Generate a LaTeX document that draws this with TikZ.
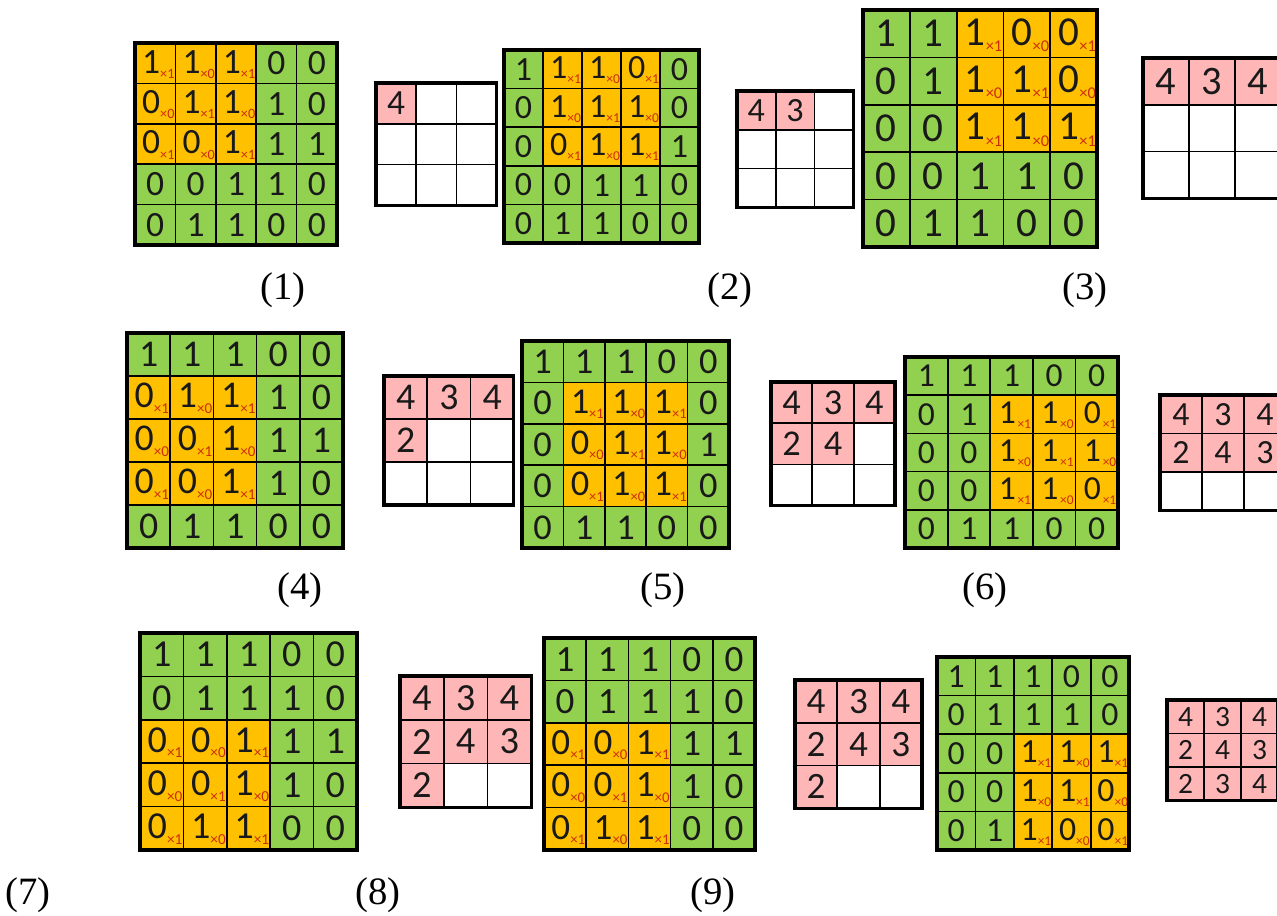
\documentclass[tikz,border=0pt]{standalone}
\usepackage{fontspec}
\setmainfont{Liberation Serif}
\newfontfamily\cellfont{Carlito}

\definecolor{gridgreen}{RGB}{146,208,80}
\definecolor{winorange}{RGB}{255,192,0}
\definecolor{outpink}{RGB}{255,182,182}
\definecolor{kernred}{RGB}{205,45,10}

\tikzset{
  gridline/.style={draw=black, line width=0.5pt},
  gridframe/.style={draw=black, line width=0.9pt},
  cellnum/.style={inner sep=0pt, text=black!90},
  kernnum/.style={inner sep=0pt, text=kernred},
  steplabel/.style={inner sep=0pt, font=\fontsize{11}{13}\selectfont},
}

% 5x5 input with 3x3 window
% #1 name, #2 left, #3 top, #4 cell w, #5 cell h, #6 window row, #7 window col
\newcommand{\convgrid}[7]{%
  \pgfmathsetmacro\fs{0.25*min(#4,#5)}
  \pgfmathsetmacro\ks{0.1*min(#4,#5)}
  \foreach \row [count=\gr from 0] in {{1,1,1,0,0},{0,1,1,1,0},{0,0,1,1,1},{0,0,1,1,0},{0,1,1,0,0}} {
    \foreach \v [count=\gc from 0] in \row {
      \pgfmathtruncatemacro\inwin{(\gr>=#6)&&(\gr<=#6+2)&&(\gc>=#7)&&(\gc<=#7+2)}
      \ifnum\inwin=1
        \pgfmathtruncatemacro\kv{1-mod(\gr-#6+\gc-#7+10,2)}
        \fill[winorange] ({#2+\gc*#4},{#3+\gr*#5}) rectangle ++(#4,#5);
        \node[cellnum, font=\cellfont\fontsize{\fs}{\fs}\selectfont] (#1-\gr-\gc)
          at ({#2+(\gc+0.4)*#4},{#3+(\gr+0.46)*#5}) {\v};
        \node[kernnum, font=\cellfont\fontsize{\ks}{\ks}\selectfont] (#1-k-\gr-\gc)
          at ({#2+(\gc+0.8)*#4},{#3+(\gr+0.76)*#5}) {×\kv};
      \else
        \fill[gridgreen] ({#2+\gc*#4},{#3+\gr*#5}) rectangle ++(#4,#5);
        \node[cellnum, font=\cellfont\fontsize{\fs}{\fs}\selectfont] (#1-\gr-\gc)
          at ({#2+(\gc+0.5)*#4},{#3+(\gr+0.5)*#5}) {\v};
      \fi
    }
  }
  \foreach \i in {1,...,4} {
    \draw[gridline] ({#2+\i*#4},#3) -- ++(0,{5*#5});
    \draw[gridline] (#2,{#3+\i*#5}) -- ++({5*#4},0);
  }
  \draw[gridframe] (#2,#3) rectangle ++({5*#4},{5*#5});
}

% 3x3 output, first #6 cells filled
% #1 name, #2 left, #3 top, #4 cell w, #5 cell h, #6 count
\newcommand{\outgrid}[6]{%
  \pgfmathsetmacro\fs{0.25*min(#4,#5)}
  \foreach \v [count=\n from 0] in {4,3,4,2,4,3,2,3,4} {
    \pgfmathtruncatemacro\gr{div(\n,3)}
    \pgfmathtruncatemacro\gc{mod(\n,3)}
    \ifnum\n<#6
      \fill[outpink] ({#2+\gc*#4},{#3+\gr*#5}) rectangle ++(#4,#5);
      \node[cellnum, font=\cellfont\fontsize{\fs}{\fs}\selectfont] (#1-\gr-\gc)
        at ({#2+(\gc+0.5)*#4},{#3+(\gr+0.5)*#5}) {\v};
    \fi
  }
  \foreach \i in {1,2} {
    \draw[gridline] ({#2+\i*#4},#3) -- ++(0,{3*#5});
    \draw[gridline] (#2,{#3+\i*#5}) -- ++({3*#4},0);
  }
  \draw[gridframe] (#2,#3) rectangle ++({3*#4},{3*#5});
}

\begin{document}
\begin{tikzpicture}[x=0.01cm, y=-0.01cm]
  \useasboundingbox (0,0) rectangle (1277,915);
  \clip (0,0) rectangle (1277,915);
  \fill[white] (0,0) rectangle (1277,915);

  % first row
  \convgrid{in1}{135}{43}{40.4}{40.4}{0}{0}
  \outgrid{out1}{376}{83}{40.3}{40.7}{1}
  \convgrid{in2}{504}{50}{39}{38.6}{0}{1}
  \outgrid{out2}{737}{91}{38.7}{38.7}{2}
  \convgrid{in3}{863}{10}{46.8}{47.4}{0}{2}
  \outgrid{out3}{1143}{58}{46}{46.7}{3}

  % second row
  \convgrid{in4}{127}{333}{43.2}{43}{1}{0}
  \outgrid{out4}{384}{376}{43.3}{43}{4}
  \convgrid{in5}{522}{341}{41.4}{41.4}{1}{1}
  \outgrid{out5}{771}{382}{41.3}{41.3}{5}
  \convgrid{in6}{905}{357}{42.6}{38.2}{1}{2}
  \outgrid{out6}{1160}{395}{42}{38.5}{6}

  % third row
  \convgrid{in7}{140}{633}{43.4}{43.4}{2}{0}
  \outgrid{out7}{400}{676}{43.7}{43.7}{7}
  \convgrid{in8}{544}{638}{42.2}{42.4}{2}{0}
  \outgrid{out8}{795}{680}{42.3}{42.7}{7}
  \convgrid{in9}{937}{657}{38.4}{38.6}{2}{2}
  \outgrid{out9}{1167}{700}{37}{33.5}{9}

  % step labels
  \node[steplabel] (lab1) at (283,290) {(1)};
  \node[steplabel] (lab2) at (730,290) {(2)};
  \node[steplabel] (lab3) at (1085,290) {(3)};
  \node[steplabel] (lab4) at (300,590) {(4)};
  \node[steplabel] (lab5) at (663,590) {(5)};
  \node[steplabel] (lab6) at (985,590) {(6)};
  \node[steplabel] (lab7) at (28,895) {(7)};
  \node[steplabel] (lab8) at (378,895) {(8)};
  \node[steplabel] (lab9) at (713,895) {(9)};
\end{tikzpicture}
\end{document}
